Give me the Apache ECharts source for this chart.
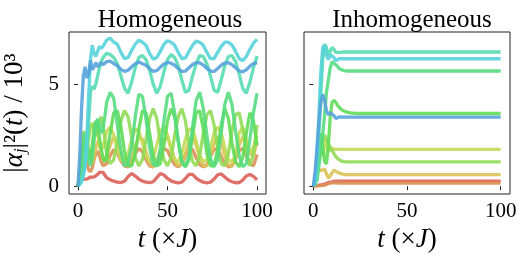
<!DOCTYPE html>
<html><head><meta charset="utf-8">
<script src="https://cdn.jsdelivr.net/npm/echarts@6/dist/echarts.min.js"></script>
<style>html,body{margin:0;padding:0;background:#fff}#c{width:522px;height:261px}</style>
</head><body><div id="c"></div>
<script>
// ---------- data ----------
const titles = ['Homogeneous', 'Inhomogeneous'];
const xTickValues = [0, 50, 100];
const yTickValues = [0, 5];
const seriesNames = ['site 1','site 2','site 3','site 4','site 5','site 6','site 7','site 8','site 9','site 10'];

// Homogeneous panel: time samples
const tHom = [0,1,2,3,4,5,6,7,8,9,10,11,12,13,14,15,16,
  18,20,22,24,26,28,30,32,34,36,38,40,42,44,46,48,50,52,54,56,58,60,62,64,66,68,70,72,74,76,78,80,82,84,86,88,90,92,94,96,98,100];

const homRed = [0,0.3,0.35,0.35,0.33,0.35,0.38,0.45,0.48,0.45,0.5,0.58,0.68,0.72,0.68,0.55,0.42,
  0.32,0.25,0.2,0.18,0.25,0.48,0.62,0.5,0.35,0.25,0.2,0.18,0.22,0.42,0.62,0.55,0.38,0.26,0.2,0.17,0.2,0.38,0.58,0.58,0.4,0.28,0.2,0.17,0.2,0.35,0.56,0.6,0.45,0.3,0.22,0.17,0.18,0.3,0.5,0.58,0.48,0.31];
const homOrange = [0,0.5,1.3,1.8,1.6,1.1,0.8,0.7,0.9,1.3,1.6,1.7,1.5,1.2,1.0,0.95,1.1,
  1.5,1.8,1.6,1.25,1.0,0.95,1.2,1.6,1.85,1.7,1.3,1.0,0.95,1.15,1.55,1.85,1.75,1.35,1.05,0.95,1.1,1.5,1.8,1.8,1.4,1.05,0.95,1.05,1.45,1.8,1.85,1.45,1.1,0.95,1.0,1.35,1.75,1.85,1.5,1.1,1.0,1.55];
const homGold = [0,0.4,0.8,1.6,2.2,2.3,1.8,1.3,1.1,1.4,1.9,2.2,2.0,1.6,1.3,1.2,1.4,
  2.0,2.4,2.2,1.6,1.1,1.0,1.3,1.9,2.4,2.3,1.7,1.1,0.95,1.2,1.8,2.3,2.4,1.9,1.3,1.0,1.1,1.6,2.2,2.4,2.0,1.4,1.0,1.0,1.5,2.1,2.4,2.1,1.5,1.05,1.0,1.4,2.0,2.4,2.2,1.6,1.5,2.2];
const homYellowGreen = [0,0.6,1.3,2.2,2.5,2.1,1.6,1.4,1.8,2.4,2.7,2.5,2.1,1.8,1.9,2.3,2.7,
  2.9,2.5,1.8,1.3,1.2,1.6,2.3,2.8,2.7,2.1,1.5,1.2,1.4,2.0,2.7,2.9,2.5,1.8,1.3,1.2,1.6,2.3,2.8,2.8,2.2,1.5,1.2,1.3,1.9,2.6,2.9,2.6,1.9,1.3,1.2,1.5,2.6,2.9,2.3,1.6,1.9,2.5];
const homLime = [0,0.7,1.5,2.7,2.4,1.8,2.3,2.9,3.1,2.8,2.5,2.8,3.2,3.4,3.0,2.3,1.6,
  1.1,1.3,2.2,3.2,3.7,3.4,2.4,1.4,1.0,1.3,2.3,3.3,3.8,3.3,2.2,1.3,1.0,1.4,2.5,3.4,3.8,3.2,2.0,1.2,1.0,1.5,2.6,3.5,3.7,3.0,1.9,1.1,1.0,1.6,2.7,3.5,3.6,2.8,1.7,1.0,1.6,3.0];
const homGreen = [0,0.5,1.0,2.0,2.6,2.2,1.6,1.3,2.0,2.8,3.2,3.0,2.4,1.8,1.4,1.2,1.5,
  2.6,3.6,3.7,2.9,1.7,1.0,1.0,1.6,2.8,3.7,3.6,2.6,1.5,1.0,1.1,2.0,3.2,3.8,3.4,2.2,1.2,0.95,1.3,2.5,3.6,3.7,2.8,1.6,1.0,1.0,1.8,3.0,3.8,3.3,2.1,1.2,0.95,1.4,2.6,3.6,3.2,2.0];
const homTealGreen = [0,0.4,0.8,1.6,2.6,2.0,1.3,1.0,1.4,2.3,3.0,3.3,3.0,2.6,2.8,3.4,4.1,
  4.6,4.3,3.0,1.7,1.0,1.1,2.0,3.4,4.5,4.4,3.3,1.9,1.05,1.0,1.8,3.2,4.4,4.55,3.6,2.2,1.2,0.95,1.5,2.9,4.2,4.6,3.8,2.5,1.35,0.95,1.3,2.6,4.0,4.6,4.0,2.7,1.5,0.95,1.1,2.3,3.6,4.55];
const homTeal = [0,0.1,0.3,0.6,1.0,1.8,3.2,4.6,4.9,4.75,5.0,5.4,5.8,6.1,6.3,6.4,6.5,
  6.45,6.3,6.0,5.4,4.8,4.55,5.1,5.8,6.3,6.4,6.2,5.7,5.0,4.55,4.9,5.6,6.2,6.45,6.3,5.9,5.2,4.6,4.7,5.4,6.0,6.4,6.35,6.0,5.4,4.7,4.6,5.2,5.9,6.35,6.4,6.1,5.5,4.8,4.55,5.1,5.8,6.37];
const homCyan = [0,0.05,0.2,0.5,1.0,2.5,4.5,6.2,6.9,6.5,6.35,6.6,6.85,6.75,6.85,7.0,7.15,
  7.25,7.05,6.95,6.55,6.25,6.3,6.65,6.95,7.15,7.05,6.9,6.5,6.22,6.3,6.6,6.95,7.12,7.05,6.9,6.55,6.25,6.28,6.6,6.9,7.1,7.05,6.9,6.55,6.25,6.25,6.55,6.85,7.05,7.05,6.92,6.6,6.25,6.15,6.35,6.7,7.0,7.19];
const homBlue = [0,1.5,3.8,5.4,5.85,5.3,5.5,6.15,5.7,5.85,6.05,5.85,5.95,6.05,5.95,6.0,6.1,
  6.12,6.0,5.9,5.72,5.62,5.68,5.85,6.0,6.08,6.0,5.92,5.75,5.62,5.66,5.82,5.98,6.06,6.02,5.92,5.76,5.62,5.64,5.8,5.96,6.05,6.04,5.93,5.78,5.64,5.62,5.76,5.93,6.03,6.05,5.95,5.8,5.65,5.6,5.7,5.88,6.0,6.05];

// Inhomogeneous panel: time samples
const tInh = [0,1,2,3,4,5,6,7,8,9,10,11,12,13,14,15,16,17,18,19,20,22,25,30,40,50,60,70,80,90,100];

const inhRed = [0,0.02,0.04,0.05,0.06,0.08,0.1,0.14,0.18,0.2,0.22,0.24,0.25,0.25,0.25,0.25,0.25,0.25,0.25,0.25,0.25,0.25,0.25,0.25,0.25,0.25,0.25,0.25,0.25,0.25,0.25];
const inhOrange = [0,0.01,0.02,0.02,0.03,0.04,0.05,0.08,0.12,0.15,0.18,0.18,0.17,0.16,0.15,0.15,0.15,0.15,0.15,0.15,0.15,0.15,0.15,0.15,0.15,0.15,0.15,0.15,0.15,0.15,0.15];
const inhGold = [0,0.3,0.7,0.85,0.75,0.78,0.85,0.6,0.38,0.42,0.65,0.78,0.75,0.68,0.62,0.6,0.58,0.57,0.57,0.57,0.57,0.57,0.57,0.57,0.57,0.57,0.57,0.57,0.57,0.57,0.57];
const inhYellowGreen = [0,0.4,1.4,2.45,1.7,1.5,2.0,2.3,1.7,1.75,1.85,1.82,1.8,1.8,1.8,1.8,1.8,1.8,1.8,1.8,1.8,1.8,1.8,1.8,1.8,1.8,1.8,1.8,1.8,1.8,1.8];
const inhLime = [0,0.2,0.7,1.3,1.8,2.2,2.5,2.35,2.1,1.9,1.75,1.6,1.45,1.35,1.28,1.23,1.2,1.19,1.19,1.19,1.19,1.19,1.19,1.19,1.19,1.19,1.19,1.19,1.19,1.19,1.19];
const inhGreen = [0,0.1,0.8,1.8,2.6,2.0,1.2,1.1,2.0,3.4,4.1,4.2,4.1,3.95,3.85,3.75,3.7,3.65,3.62,3.6,3.58,3.57,3.56,3.56,3.56,3.56,3.56,3.56,3.56,3.56,3.56];
const inhTealGreen = [0,0.05,0.3,1.0,1.8,2.5,3.5,4.6,5.2,5.8,6.1,6.1,5.95,5.85,5.75,5.7,5.67,5.65,5.64,5.64,5.64,5.64,5.64,5.64,5.64,5.64,5.64,5.64,5.64,5.64,5.64];
const inhTeal = [0,0.1,0.8,2.5,4.5,6.2,6.95,6.8,6.4,6.6,6.8,6.7,6.55,6.5,6.55,6.57,6.57,6.57,6.57,6.57,6.57,6.57,6.57,6.57,6.57,6.57,6.57,6.57,6.57,6.57,6.57];
const inhCyan = [0,0.3,1.5,3.6,5.6,6.8,6.9,6.4,6.2,6.45,6.5,6.3,6.15,6.22,6.25,6.24,6.24,6.24,6.24,6.24,6.24,6.24,6.24,6.24,6.24,6.24,6.24,6.24,6.24,6.24,6.24];
const inhBlue = [0,0.8,2.0,3.2,4.1,4.5,4.2,3.7,3.5,3.6,3.65,3.45,3.32,3.36,3.4,3.39,3.38,3.38,3.38,3.38,3.38,3.38,3.38,3.38,3.38,3.38,3.38,3.38,3.38,3.38,3.38];

// ---------- style ----------
const palette = ['#db5f57','#db9057','#dbc257','#c3db57','#91db57','#60db57','#57db80','#57dbb1','#57d3db','#57a2db'];
const FONT = 'Liberation Serif';

const homSets = [homRed, homOrange, homGold, homYellowGreen, homLime, homGreen, homTealGreen, homTeal, homCyan, homBlue];
const inhSets = [inhRed, inhOrange, inhGold, inhYellowGreen, inhLime, inhGreen, inhTealGreen, inhTeal, inhCyan, inhBlue];

function pairs(t, v) { return t.map((x, i) => [x, v[i]]); }

const series = [];
homSets.forEach((v, i) => series.push({
  type: 'line', name: seriesNames[i], xAxisIndex: 0, yAxisIndex: 0, data: pairs(tHom, v),
  showSymbol: false, lineStyle: { width: 3.3, color: palette[i], opacity: 0.9 }, itemStyle: { color: palette[i] }
}));
inhSets.forEach((v, i) => series.push({
  type: 'line', name: seriesNames[i], xAxisIndex: 1, yAxisIndex: 1, data: pairs(tInh, v),
  showSymbol: false, lineStyle: { width: 3.3, color: palette[i], opacity: 0.9 }, itemStyle: { color: palette[i] }
}));

function xAxis(gi) {
  return {
    type: 'value', gridIndex: gi, min: -5, max: 105,
    name: '{i|t} {n|(×}{i|J}{n|)}', nameLocation: 'middle', nameGap: 31,
    nameTextStyle: { fontFamily: FONT, fontSize: 27, color: '#000',
      rich: { i: { fontFamily: FONT, fontSize: 27, fontStyle: 'italic', color: '#000' },
              n: { fontFamily: FONT, fontSize: 27, color: '#000' } } },
    axisLine: { show: false },
    splitLine: { show: false },
    axisTick: { show: true, length: 4, customValues: xTickValues, lineStyle: { color: '#222', width: 1 } },
    axisLabel: { customValues: xTickValues, fontFamily: FONT, fontSize: 21, color: '#000', margin: 7 }
  };
}
function yAxis(gi, labels) {
  const a = {
    type: 'value', gridIndex: gi, min: -0.38, max: 7.55,
    axisLine: { show: false },
    splitLine: { show: false },
    axisTick: { show: true, length: 4, customValues: yTickValues, lineStyle: { color: '#222', width: 1 } },
    axisLabel: { show: labels, customValues: yTickValues, fontFamily: FONT, fontSize: 21, color: '#000', margin: 10 }
  };
  if (labels) {
    a.name = '{n||}{i|α}{s|j}{n||²(}{i|t}{n|) / 10³}';
    a.nameLocation = 'middle';
    a.nameGap = 40;
    a.nameTextStyle = { fontFamily: FONT, fontSize: 27, color: '#000',
      rich: { i: { fontFamily: FONT, fontSize: 27, fontStyle: 'italic', color: '#000' },
              n: { fontFamily: FONT, fontSize: 27, color: '#000' },
              s: { fontFamily: FONT, fontSize: 17, fontStyle: 'italic', color: '#000', verticalAlign: 'bottom', padding: [12, 0, 0, 0] } } };
  }
  return a;
}

const chart = echarts.init(document.getElementById('c'), null, { renderer: 'canvas' });
chart.setOption({
  animation: false,
  backgroundColor: '#fff',
  title: [
    { text: titles[0], left: 165, top: 3, textAlign: 'center', textStyle: { fontFamily: FONT, fontSize: 25, fontWeight: 'normal', color: '#000' } },
    { text: titles[1], left: 407, top: 3, textAlign: 'center', textStyle: { fontFamily: FONT, fontSize: 25, fontWeight: 'normal', color: '#000' } }
  ],
  grid: [
    { left: 64, top: 32, width: 202, height: 162, show: true, borderColor: '#222', borderWidth: 1, backgroundColor: 'transparent' },
    { left: 304, top: 32, width: 206, height: 162, show: true, borderColor: '#222', borderWidth: 1, backgroundColor: 'transparent' }
  ],
  xAxis: [xAxis(0), xAxis(1)],
  yAxis: [yAxis(0, true), yAxis(1, false)],
  series: series
});
</script></body></html>
